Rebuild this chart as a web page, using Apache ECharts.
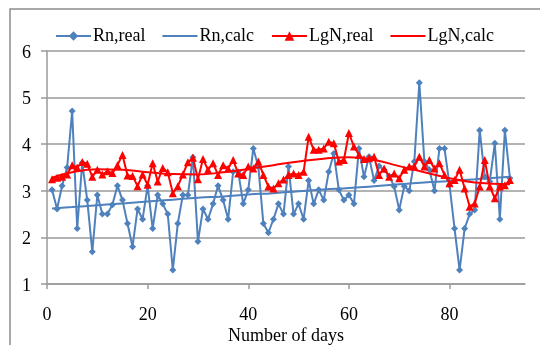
<!DOCTYPE html>
<html>
<head>
<meta charset="utf-8">
<script src="https://cdn.jsdelivr.net/npm/echarts@6/dist/echarts.min.js"></script>
<style>
  html, body { margin: 0; padding: 0; background: #fff; }
  #chart { width: 540px; height: 345px; }
</style>
</head>
<body>
<div id="chart"></div>
<script>
// days 1..92
var rnReal = [
  3.02, 2.61, 3.11, 3.50, 4.71, 2.19, 3.60, 2.80, 1.69, 2.91,
  2.50, 2.50, 2.70, 3.11, 2.80, 2.30, 1.80, 2.61, 2.39, 3.11,
  2.19, 2.91, 2.72, 2.50, 1.30, 2.30, 2.91, 2.91, 3.72, 1.91,
  2.61, 2.39, 2.72, 3.11, 2.80, 2.39, 3.41, 3.41, 2.72, 3.02,
  3.91, 3.52, 2.30, 2.10, 2.39, 2.72, 2.50, 3.52, 2.50, 2.72,
  2.39, 3.22, 2.72, 3.02, 2.80, 3.41, 3.80, 3.02, 2.80, 2.91,
  2.72, 3.91, 3.30, 3.73, 3.22, 3.53, 3.45, 3.32, 3.09, 2.59,
  3.10, 3.00, 3.63, 5.32, 3.63, 3.45, 3.00, 3.91, 3.91, 3.12,
  2.19, 1.30, 2.19, 2.50, 2.59, 4.30, 3.30, 3.20, 4.02, 2.39,
  4.30, 3.27
];
var lgnReal = [
  3.25, 3.28, 3.30, 3.35, 3.55, 3.50, 3.62, 3.58, 3.30, 3.45,
  3.35, 3.42, 3.38, 3.55, 3.77, 3.33, 3.32, 3.10, 3.35, 3.13,
  3.59, 3.20, 3.49, 3.40, 2.95, 3.10, 3.35, 3.61, 3.71, 3.25,
  3.68, 3.45, 3.59, 3.34, 3.55, 3.48, 3.66, 3.37, 3.34, 3.52,
  3.48, 3.63, 3.34, 3.09, 3.05, 3.16, 3.24, 3.34, 3.37, 3.34,
  3.41, 4.16, 3.88, 3.88, 3.91, 4.05, 4.02, 3.63, 3.66, 4.24,
  3.95, 3.77, 3.68, 3.70, 3.73, 3.34, 3.48, 3.30, 3.37, 3.27,
  3.45, 3.52, 3.52, 3.73, 3.52, 3.66, 3.48, 3.59, 3.34, 3.16,
  3.23, 3.45, 3.05, 2.66, 2.73, 3.09, 3.66, 3.09, 2.84, 3.09,
  3.12, 3.23
];
// calc curves, read at a few days
var calcDays = [1, 5, 10, 15, 20, 25, 30, 35, 40, 45, 50, 55, 60, 65, 70, 75, 80, 85, 92];
var rnCalc = [2.62, 2.65, 2.69, 2.73, 2.77, 2.81, 2.85, 2.88, 2.92, 2.95, 2.99, 3.03, 3.06, 3.10, 3.14, 3.18, 3.21, 3.25, 3.30];
var lgnCalc = [3.28, 3.40, 3.46, 3.45, 3.40, 3.36, 3.35, 3.40, 3.47, 3.55, 3.63, 3.69, 3.72, 3.66, 3.53, 3.40, 3.27, 3.18, 3.14];
var xTicks = [0, 20, 40, 60, 80];

function pairs(xs, ys) { return ys.map(function (v, i) { return [xs[i], v]; }); }
function daily(ys) { return ys.map(function (v, i) { return [i + 1, v]; }); }

var font = "'Liberation Serif', 'Times New Roman', serif";
var grey = "#9a9a9a";
var blue = "#4f81bd";
var red = "#ff0000";
var lineIcon = "path://M0,0H35V2H0Z";

var chart = echarts.init(document.getElementById("chart"));
chart.setOption({
  animation: false,
  backgroundColor: "#fff",
  textStyle: { fontFamily: font, color: "#000" },
  graphic: [{
    type: "rect",
    shape: { x: 10, y: 9, width: 600, height: 400 },
    style: { fill: "none", stroke: "#8c8c8c", lineWidth: 1.5 },
    silent: true
  }],
  legend: {
    left: 50,
    top: 22,
    itemGap: 17,
    itemWidth: 35,
    itemHeight: 12,
    textStyle: { fontFamily: font, fontSize: 18, color: "#000", padding: [0, 0, 0, -3] },
    data: [
      "Rn,real",
      { name: "Rn,calc", icon: lineIcon },
      "LgN,real",
      { name: "LgN,calc", icon: lineIcon }
    ]
  },
  grid: { left: 47, right: 15, top: 51, bottom: 61, containLabel: false, outerBoundsMode: "none" },
  xAxis: {
    type: "value",
    min: 0,
    max: 95,
    interval: 20,
    name: "Number of days",
    nameLocation: "middle",
    nameGap: 43,
    nameMoveOverlap: false,
    nameTextStyle: { fontFamily: font, fontSize: 18, color: "#000" },
    axisLine: { lineStyle: { color: grey, width: 1.5 } },
    axisTick: { show: true, length: 5, lineStyle: { color: grey, width: 1.5 }, customValues: xTicks },
    axisLabel: { fontFamily: font, fontSize: 18, color: "#000", margin: 22, customValues: xTicks },
    splitLine: { show: false }
  },
  yAxis: {
    type: "value",
    min: 1,
    max: 6,
    interval: 1,
    axisLine: { show: true, lineStyle: { color: grey, width: 1.5 } },
    axisTick: { show: true, length: 6, lineStyle: { color: grey, width: 1.5 } },
    axisLabel: { fontFamily: font, fontSize: 18, color: "#000", margin: 16, verticalAlign: "top", lineHeight: 4 },
    splitLine: { show: true, lineStyle: { color: grey, width: 1.5 } }
  },
  series: [
    {
      name: "Rn,real",
      type: "line",
      data: daily(rnReal),
      symbol: "diamond",
      symbolSize: 7,
      itemStyle: { color: blue },
      lineStyle: { color: blue, width: 2 },
      z: 3
    },
    {
      name: "Rn,calc",
      type: "line",
      data: pairs(calcDays, rnCalc),
      symbol: "none",
      smooth: true,
      itemStyle: { color: blue },
      lineStyle: { color: blue, width: 2 },
      z: 2
    },
    {
      name: "LgN,real",
      type: "line",
      data: daily(lgnReal),
      symbol: "triangle",
      symbolSize: 8,
      itemStyle: { color: red },
      lineStyle: { color: red, width: 2 },
      z: 4
    },
    {
      name: "LgN,calc",
      type: "line",
      data: pairs(calcDays, lgnCalc),
      symbol: "none",
      smooth: true,
      itemStyle: { color: red },
      lineStyle: { color: red, width: 2 },
      z: 4
    }
  ]
});
</script>
</body>
</html>
